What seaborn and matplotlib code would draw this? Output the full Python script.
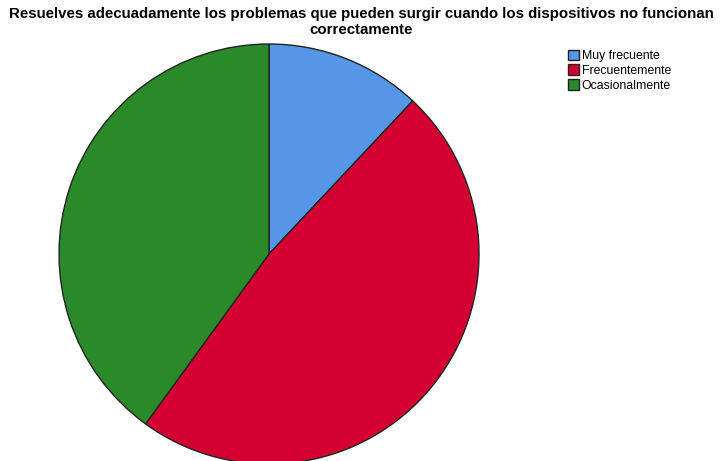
"""Pie chart: resolución de problemas con dispositivos."""
import matplotlib
matplotlib.use("Agg")
import matplotlib.pyplot as plt
import seaborn as sns

categories = ["Muy frecuente", "Frecuentemente", "Ocasionalmente"]
counts = [3, 12, 10]
colors = ["#5596e6", "#d50032", "#2a8a2a"]
title = ("Resuelves adecuadamente los problemas que pueden surgir cuando los dispositivos no funcionan\n"
         "correctamente")

sns.set_style("white")
plt.rcParams["font.family"] = ["Liberation Sans", "DejaVu Sans"]
plt.rcParams["text.color"] = "black"

fig = plt.figure(figsize=(7.22, 4.61), dpi=100)
# pie box in pixels: x 59..479, y 44..464 (bottom slightly cut off)
ax = fig.add_axes([59 / 722, (461 - 464) / 461, 420 / 722, 420 / 461])
wedges, _ = ax.pie(
    counts,
    colors=colors,
    startangle=90,
    counterclock=False,
    radius=1,
    wedgeprops={"edgecolor": "#222222", "linewidth": 1.0},
)
for w in wedges:
    w.set_clip_on(False)
ax.set_xlim(-1, 1)
ax.set_ylim(-1, 1)
ax.set_aspect("auto")
ax.axis("off")

fig.text(0.5, 1 - 7 / 461, title, ha="center", va="top", fontsize=10.8,
         fontweight="bold", linespacing=1.15, color="black")

fig.legend(
    wedges, categories,
    loc="upper left",
    bbox_to_anchor=(559 / 722, 1 - 41 / 461),
    frameon=False,
    fontsize=8.8,
    handlelength=0.95,
    handleheight=0.95,
    handletextpad=0.2,
    labelspacing=0.2,
    borderpad=0.2,
)

fig.savefig("out.png", dpi=100)
